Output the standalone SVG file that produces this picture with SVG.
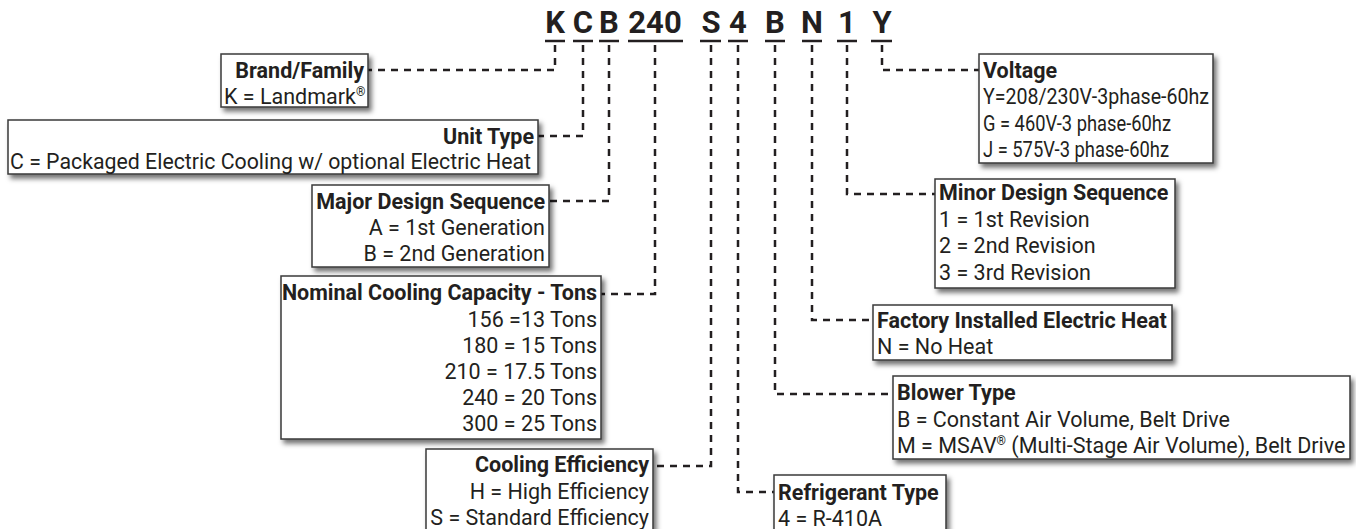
<svg xmlns="http://www.w3.org/2000/svg" width="1356" height="529" viewBox="0 0 1356 529">
<defs>
<filter id="sh" x="-10%" y="-20%" width="130%" height="160%">
<feDropShadow dx="3" dy="4" stdDeviation="2.5" flood-color="#000" flood-opacity="0.55"/>
</filter>
<style>
.box{fill:#fff;stroke:#3a3a3a;stroke-width:1.5;filter:url(#sh)}
.t{font-family:Roboto,"Liberation Sans",sans-serif;font-size:21.5px;fill:#231f20}
.h{font-weight:bold}
.r{text-anchor:end}
.code{font-family:Roboto,"Liberation Sans",sans-serif;font-size:31px;font-weight:bold;fill:#231f20;text-anchor:middle}
.ul{stroke:#231f20;stroke-width:2.5}
.con{fill:none;stroke:#231f20;stroke-width:2.5;stroke-dasharray:7 6}
.sup{font-size:12px}
</style>
</defs>
<rect width="1356" height="529" fill="#fff"/>

<g id="code">
<text class="code" x="555" y="33">K</text>
<text class="code" x="583" y="33">C</text>
<text class="code" x="609" y="33">B</text>
<text class="code" x="655" y="33">240</text>
<text class="code" x="711" y="33">S</text>
<text class="code" x="738" y="33">4</text>
<text class="code" x="775" y="33">B</text>
<text class="code" x="812" y="33">N</text>
<text class="code" x="847" y="33">1</text>
<text class="code" x="882" y="33">Y</text>
<line class="ul" x1="545" y1="41" x2="565" y2="41"/>
<line class="ul" x1="573" y1="41" x2="593" y2="41"/>
<line class="ul" x1="599" y1="41" x2="619" y2="41"/>
<line class="ul" x1="628" y1="41" x2="683" y2="41"/>
<line class="ul" x1="700" y1="41" x2="721" y2="41"/>
<line class="ul" x1="728" y1="41" x2="748" y2="41"/>
<line class="ul" x1="765" y1="41" x2="785" y2="41"/>
<line class="ul" x1="802" y1="41" x2="822" y2="41"/>
<line class="ul" x1="837" y1="41" x2="857" y2="41"/>
<line class="ul" x1="871" y1="41" x2="892" y2="41"/>
</g>

<g id="connectors">
<path class="con" d="M555,45 V70 H368"/>
<path class="con" d="M583,45 V136 H538"/>
<path class="con" d="M609,45 V201 H549"/>
<path class="con" d="M655,45 V294 H601"/>
<path class="con" d="M711,45 V466 H653"/>
<path class="con" d="M738,45 V492 H774"/>
<path class="con" d="M775,45 V394 H893"/>
<path class="con" d="M812,45 V320 H873"/>
<path class="con" d="M847,45 V194 H935"/>
<path class="con" d="M882,45 V70 H979"/>
</g>

<g id="brand">
<rect class="box" x="221" y="54" width="147" height="53"/>
<text class="t h r" x="364" y="78">Brand/Family</text>
<text class="t" x="224" y="104">K = Landmark<tspan class="sup" dy="-8">®</tspan></text>
</g>

<g id="unit-type">
<rect class="box" x="8" y="120" width="530" height="54"/>
<text class="t h r" x="534" y="144">Unit Type</text>
<text class="t" x="10" y="169" textLength="521" lengthAdjust="spacingAndGlyphs">C = Packaged Electric Cooling w/ optional Electric Heat</text>
</g>

<g id="major">
<rect class="box" x="312" y="185" width="237" height="82"/>
<text class="t h r" x="545" y="209">Major Design Sequence</text>
<text class="t r" x="545" y="235">A = 1st Generation</text>
<text class="t r" x="545" y="261">B = 2nd Generation</text>
</g>

<g id="nominal">
<rect class="box" x="281" y="276" width="320" height="163"/>
<text class="t h r" x="597" y="300">Nominal Cooling Capacity - Tons</text>
<text class="t r" x="597" y="327">156 =13 Tons</text>
<text class="t r" x="597" y="353">180 = 15 Tons</text>
<text class="t r" x="597" y="379">210 = 17.5 Tons</text>
<text class="t r" x="597" y="405">240 = 20 Tons</text>
<text class="t r" x="597" y="431">300 = 25 Tons</text>
</g>

<g id="efficiency">
<rect class="box" x="426" y="449" width="227" height="95"/>
<text class="t h r" x="649" y="472">Cooling Efficiency</text>
<text class="t r" x="649" y="499">H = High Efficiency</text>
<text class="t r" x="649" y="525">S = Standard Efficiency</text>
</g>

<g id="voltage">
<rect class="box" x="979" y="54" width="234" height="109"/>
<text class="t h" x="983" y="78">Voltage</text>
<text class="t" x="983" y="104" textLength="226" lengthAdjust="spacingAndGlyphs">Y=208/230V-3phase-60hz</text>
<text class="t" x="983" y="131" textLength="188" lengthAdjust="spacingAndGlyphs">G = 460V-3 phase-60hz</text>
<text class="t" x="983" y="157" textLength="186" lengthAdjust="spacingAndGlyphs">J = 575V-3 phase-60hz</text>
</g>

<g id="minor">
<rect class="box" x="935" y="179" width="240" height="109"/>
<text class="t h" x="939" y="200">Minor Design Sequence</text>
<text class="t" x="939" y="227">1 = 1st Revision</text>
<text class="t" x="939" y="253">2 = 2nd Revision</text>
<text class="t" x="939" y="280">3 = 3rd Revision</text>
</g>

<g id="heat">
<rect class="box" x="873" y="305" width="299" height="55"/>
<text class="t h" x="877" y="328">Factory Installed Electric Heat</text>
<text class="t" x="877" y="354">N = No Heat</text>
</g>

<g id="blower">
<rect class="box" x="893" y="376" width="457" height="83"/>
<text class="t h" x="897" y="400">Blower Type</text>
<text class="t" x="897" y="427">B = Constant Air Volume, Belt Drive</text>
<text class="t" x="897" y="453">M = MSAV<tspan class="sup" dy="-8">®</tspan><tspan dy="8"> (Multi-Stage Air Volume), Belt Drive</tspan></text>
</g>

<g id="refrigerant">
<rect class="box" x="774" y="475" width="172" height="69"/>
<text class="t h" x="778" y="500">Refrigerant Type</text>
<text class="t" x="778" y="526">4 = R-410A</text>
</g>
</svg>
